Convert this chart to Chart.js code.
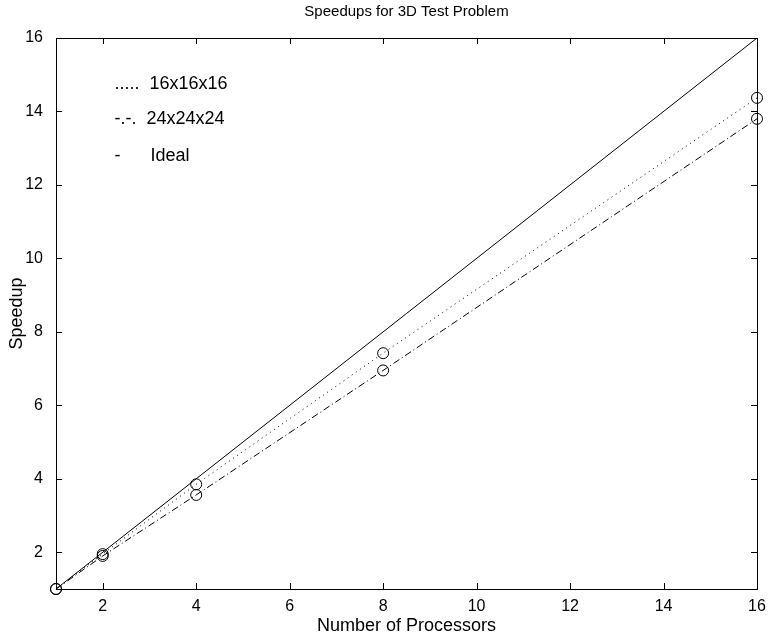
<!DOCTYPE html>
<html lang="en">

<head>
    <meta charset="UTF-8">
    <script src="https://cdn.jsdelivr.net/npm/chart.js"></script>
    <title>Speedups</title>
    <style>
        html, body { margin: 0; padding: 0; background: #fff; }
        #box { width: 768px; height: 637px; }
    </style>
</head>

<body>
    <div id="box">
        <canvas id="myChart" width="768" height="637"></canvas>
    </div>
</body>

</html>

<script>
    // dados
    const processadores = [1, 2, 4, 8, 16];
    const speedup16 = [1, 1.95, 3.85, 7.42, 14.37];
    const speedup24 = [1, 1.9, 3.56, 6.95, 13.8];
    const idealX = [1, 16];
    const idealY = [1, 16];
    const ticksX = [2, 4, 6, 8, 10, 12, 14, 16];
    const ticksY = [2, 4, 6, 8, 10, 12, 14, 16];

    const fonte = "'Liberation Sans', Arial, sans-serif";

    function pares(xs, ys) {
        return xs.map((x, i) => ({ x: x, y: ys[i] }));
    }

    // titulo centrado sobre a area do grafico (como no matlab)
    const tituloArea = {
        id: 'tituloArea',
        afterDraw(chart) {
            const ctx = chart.ctx;
            const a = chart.chartArea;
            ctx.save();
            ctx.fillStyle = '#000';
            ctx.font = '15px ' + fonte;
            ctx.textAlign = 'center';
            ctx.textBaseline = 'middle';
            ctx.fillText('Speedups for 3D Test Problem', (a.left + a.right) / 2, 12);
            ctx.restore();
        }
    };

    // legenda em texto, como no original (posicao em coordenadas do grafico)
    const legendaTexto = {
        id: 'legendaTexto',
        afterDraw(chart) {
            const ctx = chart.ctx;
            const sx = chart.scales.x, sy = chart.scales.y;
            ctx.save();
            ctx.fillStyle = '#000';
            ctx.font = '18px ' + fonte;
            ctx.textBaseline = 'middle';
            ctx.textAlign = 'left';
            const linhas = [
                ['.....  16x16x16', 14.75],
                ['-.-.  24x24x24', 13.8],
                ['-      Ideal', 12.8]
            ];
            linhas.forEach(l => {
                ctx.fillText(l[0], sx.getPixelForValue(2.25), sy.getPixelForValue(l[1]));
            });
            ctx.restore();
        }
    };

    // moldura e tracinhos para dentro, nos quatro lados
    const moldura = {
        id: 'moldura',
        afterDraw(chart) {
            const ctx = chart.ctx;
            const a = chart.chartArea;
            const sx = chart.scales.x, sy = chart.scales.y;
            const t = 6;
            ctx.save();
            ctx.strokeStyle = '#000';
            ctx.lineWidth = 1;
            ctx.strokeRect(a.left + 0.5, a.top + 0.5, a.right - a.left, a.bottom - a.top);
            ctx.beginPath();
            sx.ticks.forEach(tk => {
                const px = Math.round(sx.getPixelForValue(tk.value)) + 0.5;
                ctx.moveTo(px, a.bottom);
                ctx.lineTo(px, a.bottom - t);
                ctx.moveTo(px, a.top);
                ctx.lineTo(px, a.top + t);
            });
            sy.ticks.forEach(tk => {
                const py = Math.round(sy.getPixelForValue(tk.value)) + 0.5;
                ctx.moveTo(a.left, py);
                ctx.lineTo(a.left + t, py);
                ctx.moveTo(a.right, py);
                ctx.lineTo(a.right - t, py);
            });
            ctx.stroke();
            ctx.restore();
        }
    };

    const pontos = {
        pointStyle: 'circle',
        pointRadius: 5.5,
        pointBorderColor: '#000',
        pointBackgroundColor: 'rgba(0,0,0,0)',
        pointBorderWidth: 1,
        clip: false
    };

    const dados = {
        datasets: [
            Object.assign({
                label: '16x16x16',
                data: pares(processadores, speedup16),
                borderColor: '#000',
                borderWidth: 1,
                borderDash: [1, 4]
            }, pontos),
            Object.assign({
                label: '24x24x24',
                data: pares(processadores, speedup24),
                borderColor: '#000',
                borderWidth: 1,
                borderDash: [7, 3, 1, 3]
            }, pontos),
            {
                label: 'Ideal',
                data: pares(idealX, idealY),
                borderColor: '#000',
                borderWidth: 1,
                pointRadius: 0
            }
        ]
    };

    const config = {
        type: 'line',
        data: dados,
        plugins: [moldura, legendaTexto, tituloArea],
        options: {
            responsive: false,
            animation: false,
            devicePixelRatio: 1,
            layout: { padding: { right: 11, left: 6, bottom: 0, top: 38 } },
            plugins: {
                legend: { display: false },
                tooltip: { enabled: false },
                title: { display: false }
            },
            scales: {
                x: {
                    type: 'linear',
                    min: 1,
                    max: 16,
                    afterBuildTicks: (s) => { s.ticks = ticksX.map(v => ({ value: v })); },
                    afterFit: (s) => { s.height = 48; },
                    grid: { display: false },
                    border: { display: false },
                    ticks: {
                        color: '#000',
                        padding: 0,
                        maxRotation: 0,
                        font: { family: fonte, size: 16 }
                    },
                    title: {
                        display: true,
                        text: 'Number of Processors',
                        color: '#000',
                        padding: 0,
                        font: { family: fonte, size: 18 }
                    }
                },
                y: {
                    type: 'linear',
                    min: 1,
                    max: 16,
                    afterBuildTicks: (s) => { s.ticks = ticksY.map(v => ({ value: v })); },
                    afterFit: (s) => { s.width = 50; },
                    grid: { display: false },
                    border: { display: false },
                    ticks: {
                        color: '#000',
                        padding: 5,
                        font: { family: fonte, size: 16 }
                    },
                    title: {
                        display: true,
                        text: 'Speedup',
                        color: '#000',
                        padding: { top: 0, bottom: 0 },
                        font: { family: fonte, size: 18 }
                    }
                }
            }
        }
    };

    let myChart = new Chart(document.getElementById('myChart'), config);
</script>
